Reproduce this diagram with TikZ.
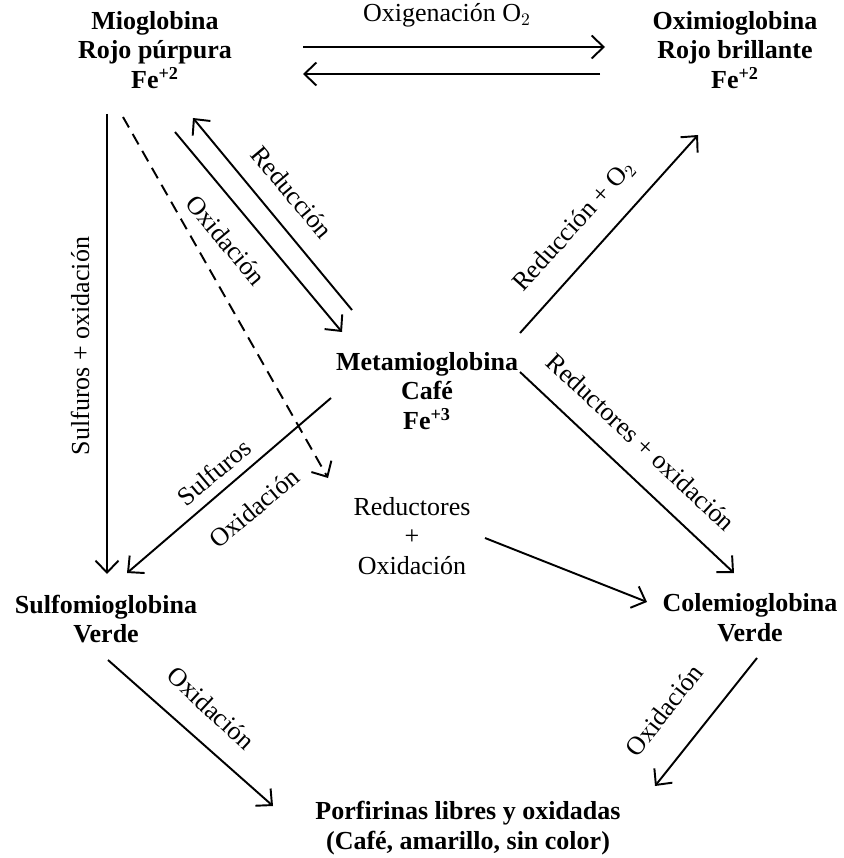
\documentclass[tikz,border=0pt]{standalone}
\usepackage{fontspec}
\setmainfont{Liberation Serif}
\usetikzlibrary{arrows.meta}

\begin{document}
\begin{tikzpicture}[
    x=0.02cm, y=-0.02cm,
    species/.style={
        align=center,
        inner sep=0pt,
        font=\fontsize{14.8}{17}\selectfont\bfseries
    },
    lbl/.style={inner sep=0pt, align=center, font=\fontsize{14.8}{17}\selectfont},
    arrow/.style={-{Straight Barb[length=2.4mm,width=4.6mm]}, line width=1.1pt},
    dasharrow/.style={arrow, dash pattern=on 2.4mm off 1.5mm}
]
\useasboundingbox (0,0) rectangle (843,858);

%==========================
% Species
%==========================
\node[species] (mio)  at (155,50)  {Mioglobina\\Rojo púrpura\\Fe\textsuperscript{+2}};
\node[species] (oxi)  at (735,50)  {Oximioglobina\\Rojo brillante\\Fe\textsuperscript{+2}};
\node[species] (meta) at (427,391) {Metamioglobina\\Café\\Fe\textsuperscript{+3}};
\node[species] (sulf) at (106,619) {Sulfomioglobina\\Verde};
\node[species] (cole) at (750,618) {Colemioglobina\\Verde};
\node[species] (porf) at (468,828) {Porfirinas libres y oxidadas\\(Café, amarillo, sin color)};
\node[lbl] (redox) at (412,536) {Reductores\\+\\Oxidación};

%==========================
% Arrow ends
%==========================
\coordinate (mioE1) at (303,47);  \coordinate (oxiW1) at (605,47);
\coordinate (oxiW2) at (600,74);  \coordinate (mioE2) at (303,74);
\coordinate (mioS)  at (107,114); \coordinate (sulfN) at (107,574);
\coordinate (mioD)  at (123,117); \coordinate (redoxN) at (328,478);
\coordinate (mioO)  at (175,132); \coordinate (metaO) at (342,332);
\coordinate (metaR) at (352,310); \coordinate (mioR)  at (193,118);
\coordinate (metaNE) at (520,333); \coordinate (oxiS) at (698,135);
\coordinate (metaSE) at (520,372); \coordinate (coleN) at (734,573);
\coordinate (metaSW) at (331,398); \coordinate (sulfNE) at (127,573);
\coordinate (redoxE) at (485,538); \coordinate (coleW) at (647,602);
\coordinate (sulfS) at (108,660); \coordinate (porfW) at (273,806);
\coordinate (coleS) at (757,658); \coordinate (porfE) at (655,786);

%==========================
% Reactions
%==========================
\draw[arrow] (mioE1) -- (oxiW1);
\draw[arrow] (oxiW2) -- (mioE2);
\node[lbl] (oxig) at (447,15) {Oxigenación O$_2$};

\draw[arrow] (mioS) -- (sulfN);
\node[lbl, rotate=90] (sulfox) at (80,346) {Sulfuros + oxidación};

\draw[dasharrow] (mioD) -- (redoxN);

\draw[arrow] (mioO) -- (metaO);
\node[lbl, rotate=-50] (oxid1) at (226,240) {Oxidación};
\draw[arrow] (metaR) -- (mioR);
\node[lbl, rotate=-50] (reduc) at (292,192) {Reducción};

\draw[arrow] (metaNE) -- (oxiS);
\node[lbl, rotate=48] (redO) at (574,226) {Reducción + O$_2$};

\draw[arrow] (metaSE) -- (coleN);
\node[lbl, rotate=-43] (redoxl) at (641,442) {Reductores + oxidación};

\draw[arrow] (metaSW) -- (sulfNE);
\node[lbl, rotate=40] (sulfl) at (214,472) {Sulfuros};
\node[lbl, rotate=40] (oxid2) at (254,508) {Oxidación};

\draw[arrow] (redoxE) -- (coleW);

\draw[arrow] (sulfS) -- (porfW);
\node[lbl, rotate=-43] (oxid3) at (211,708) {Oxidación};
\draw[arrow] (coleS) -- (porfE);
\node[lbl, rotate=52] (oxid4) at (664,710) {Oxidación};

\end{tikzpicture}
\end{document}
